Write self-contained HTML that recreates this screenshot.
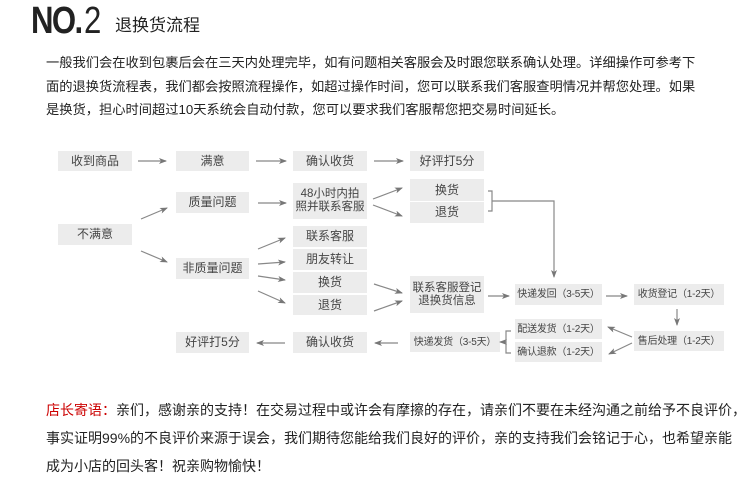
<!DOCTYPE html>
<html><head><meta charset="utf-8"><style>
body{margin:0;width:750px;height:491px;background:#fff;position:relative;overflow:hidden;font-family:"Liberation Sans","Noto Sans CJK SC",sans-serif;color:#222}
.a{position:absolute;white-space:nowrap}
.b{position:absolute;background:#ececec;color:#444;font-size:12px;display:flex;align-items:center;justify-content:center;text-align:center;line-height:13px;white-space:nowrap}
.s{font-size:10px;letter-spacing:-0.2px}
</style></head><body>
<div class="a" style="left:31px;top:0px;font-size:38px;font-weight:bold;letter-spacing:-2px;transform:scaleX(0.82);transform-origin:left;">NO.<span style="font-weight:normal;margin-left:3px">2</span></div>
<div class="a" style="left:115px;top:11px;font-size:17px;">退换货流程</div>
<div class="a" style="left:46px;top:51px;font-size:13.25px;line-height:23.5px;">一般我们会在收到包裹后会在三天内处理完毕，如有问题相关客服会及时跟您联系确认处理。详细操作可参考下<br>面的退换货流程表，我们都会按照流程操作，如超过操作时间，您可以联系我们客服查明情况并帮您处理。如果<br>是换货，担心时间超过10天系统会自动付款，您可以要求我们客服帮您把交易时间延长。</div>

<div class="b" style="left:58px;top:151px;width:74px;height:20px">收到商品</div>
<div class="b" style="left:176px;top:151px;width:73px;height:20px">满意</div>
<div class="b" style="left:293px;top:151px;width:74px;height:20px">确认收货</div>
<div class="b" style="left:410px;top:151px;width:74px;height:20px">好评打5分</div>
<div class="b" style="left:176px;top:192px;width:73px;height:21px">质量问题</div>
<div class="b" style="left:293px;top:183px;width:74px;height:36px;font-size:11.5px">48小时内拍<br>照并联系客服</div>
<div class="b" style="left:410px;top:179px;width:74px;height:22px">换货</div>
<div class="b" style="left:410px;top:202px;width:74px;height:21px">退货</div>
<div class="b" style="left:58px;top:224px;width:74px;height:21px">不满意</div>
<div class="b" style="left:176px;top:258px;width:73px;height:21px">非质量问题</div>
<div class="b" style="left:293px;top:226px;width:74px;height:21px">联系客服</div>
<div class="b" style="left:293px;top:249px;width:74px;height:21px">朋友转让</div>
<div class="b" style="left:293px;top:272px;width:74px;height:21px">换货</div>
<div class="b" style="left:293px;top:295px;width:74px;height:20px">退货</div>
<div class="b" style="left:410px;top:276px;width:74px;height:37px;font-size:11.5px">联系客服登记<br>退换货信息</div>
<div class="b s" style="left:515px;top:284px;width:87px;height:21px">快递发回（3-5天）</div>
<div class="b s" style="left:634px;top:284px;width:90px;height:21px">收货登记（1-2天）</div>
<div class="b s" style="left:634px;top:331px;width:90px;height:20px">售后处理（1-2天）</div>
<div class="b s" style="left:515px;top:319px;width:87px;height:20px">配送发货（1-2天）</div>
<div class="b s" style="left:515px;top:342px;width:87px;height:20px">确认退款（1-2天）</div>
<div class="b s" style="left:410px;top:332px;width:90px;height:20px">快递发货（3-5天）</div>
<div class="b" style="left:293px;top:332px;width:74px;height:21px">确认收货</div>
<div class="b" style="left:176px;top:332px;width:73px;height:21px">好评打5分</div>

<svg class="a" style="left:0;top:0" width="750" height="491">
<defs><marker id="m" markerWidth="8" markerHeight="6" refX="7" refY="3" orient="auto" markerUnits="userSpaceOnUse"><path d="M0,0L8,3L0,6L2,3z" fill="#777"/></marker></defs>
<g stroke="#888" stroke-width="1.2" fill="none" marker-end="url(#m)">
<line x1="138" y1="161" x2="166" y2="161"/>
<line x1="256" y1="161" x2="286" y2="161"/>
<line x1="374" y1="161" x2="403" y2="161"/>
<line x1="141" y1="219" x2="167" y2="208"/>
<line x1="141" y1="251" x2="167" y2="262"/>
<line x1="258" y1="203" x2="286" y2="203"/>
<line x1="373" y1="199" x2="402" y2="188"/>
<line x1="373" y1="205" x2="402" y2="216"/>
<line x1="258" y1="249" x2="285" y2="238"/>
<line x1="258" y1="264" x2="285" y2="262"/>
<line x1="258" y1="276" x2="285" y2="280"/>
<line x1="258" y1="291" x2="285" y2="303"/>
<line x1="374" y1="284" x2="402" y2="293"/>
<line x1="374" y1="311" x2="402" y2="301"/>
<polyline points="492,201 554,201 554,277"/>
<line x1="488" y1="296" x2="509" y2="296"/>
<line x1="606" y1="296" x2="627" y2="296"/>
<line x1="677" y1="309" x2="677" y2="325"/>
<line x1="632" y1="337" x2="608" y2="327"/>
<line x1="632" y1="343" x2="609" y2="354"/>
<line x1="506" y1="342" x2="500" y2="342"/>
<line x1="398" y1="343" x2="375" y2="343"/>
<line x1="285" y1="343" x2="257" y2="343"/>
</g>
<g stroke="#888" stroke-width="1.2" fill="none">
<polyline points="488,191 492,191 492,211 488,211"/>
<polyline points="511,331 506,331 506,353 511,353"/>
</g>
</svg>

<div class="a" style="left:46px;top:396px;font-size:14px;line-height:28px;color:#222"><span style="color:#c00">店长寄语：</span>亲们，感谢亲的支持！在交易过程中或许会有摩擦的存在，请亲们不要在未经沟通之前给予不良评价，<br>事实证明99%的不良评价来源于误会，我们期待您能给我们良好的评价，亲的支持我们会铭记于心，也希望亲能<br>成为小店的回头客！祝亲购物愉快！</div>
</body></html>
